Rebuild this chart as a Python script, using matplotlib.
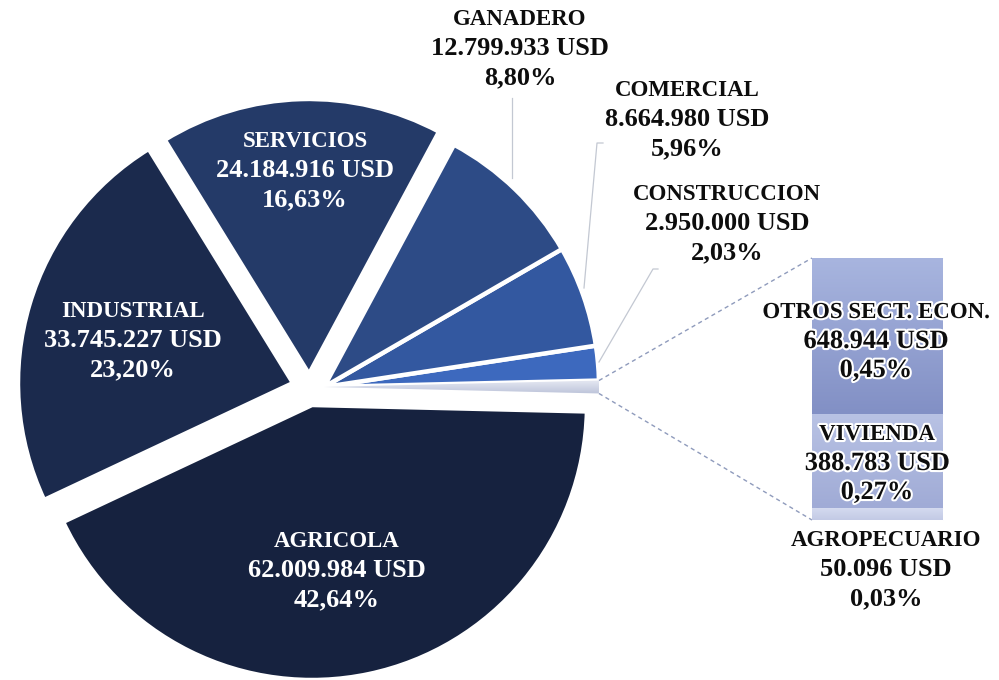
import matplotlib
matplotlib.use("Agg")
import matplotlib.pyplot as plt
import matplotlib.patheffects as pe
import numpy as np

# ---------------- data ----------------
main_sectors = ["AGRICOLA", "INDUSTRIAL", "SERVICIOS", "GANADERO", "COMERCIAL", "CONSTRUCCION"]
main_values = [62009984, 33745227, 24184916, 12799933, 8664980, 2950000]
bar_sectors = ["OTROS SECT. ECON.", "VIVIENDA", "AGROPECUARIO"]
bar_values = [648944, 388783, 50096]

total = sum(main_values) + sum(bar_values)

def fmt_usd(v):
    return f"{v:,}".replace(",", ".") + " USD"

def fmt_pct(v):
    return f"{100 * v / total:.2f}".replace(".", ",") + "%"

# ---------------- styling ----------------
main_colors = {
    "AGRICOLA": "#16223F",
    "INDUSTRIAL": "#1B2A4D",
    "SERVICIOS": "#243A68",
    "GANADERO": "#2D4B86",
    "COMERCIAL": "#3358A0",
    "CONSTRUCCION": "#3D69BE",
}
other_color = "#D2D7E7"

W, H = 999, 680
fig = plt.figure(figsize=(W / 100, H / 100), dpi=100)
ax = fig.add_axes([0, 0, 1, 1])

FONT = ["Liberation Serif", "DejaVu Serif"]
FS_NAME = 16.5
FS_NUM = 19
LINE_GAP = 29

order = ["AGRICOLA", "OTHER", "CONSTRUCCION", "COMERCIAL", "GANADERO", "SERVICIOS", "INDUSTRIAL"]
vals_map = dict(zip(main_sectors, main_values))
vals_map["OTHER"] = sum(bar_values)
pie_vals = [vals_map[k] for k in order]
pie_cols = [main_colors.get(k, other_color) for k in order]

other_frac = vals_map["OTHER"] / total
agri_frac = vals_map["AGRICOLA"] / total
start = -(other_frac / 2) * 360 - agri_frac * 360

cx, cy, R = 324, H - 387, 275
wedges, _ = ax.pie(pie_vals, colors=pie_cols, startangle=start,
                   counterclock=True, center=(cx, cy), radius=R,
                   wedgeprops=dict(edgecolor="white", linewidth=3.2))

# pulled-out slices (apex positions in image pixels)
offsets = {"AGRICOLA": (312, 405), "INDUSTRIAL": (293, 383), "SERVICIOS": (309, 374)}
for k, (px, py) in offsets.items():
    wedges[order.index(k)].set_center((px, H - py))

# gradient on the "other" wedge
ow = wedges[order.index("OTHER")]
t = np.linspace(0, 1, 32)[:, None]
c1 = np.array(matplotlib.colors.to_rgb("#E8EBF4"))
c2 = np.array(matplotlib.colors.to_rgb("#BAC1D8"))
img = (c1 * (1 - t) + c2 * t)[:, None, :]
im = ax.imshow(img, extent=[cx, cx + R, cy - 8, cy + 8], aspect="auto", origin="upper", zorder=1.5)
im.set_clip_path(ow)

# ---------------- stacked bar ----------------
bx, bw = 877.5, 131
b_bottom, b_height = 160, 262
scale = b_height / sum(bar_values)
bar_grad = {
    "OTROS SECT. ECON.": ("#A8B5DF", "#8290C5"),
    "VIVIENDA": ("#B8C2E4", "#A0ABD6"),
    "AGROPECUARIO": ("#D5DBF0", "#C3CAE5"),
}
bottom = b_bottom
for name, v in zip(bar_sectors[::-1], bar_values[::-1]):
    h = v * scale
    rect = ax.bar(bx, h, width=bw, bottom=bottom, color=bar_grad[name][1],
                  edgecolor="white", linewidth=0.8, zorder=2)[0]
    top_c = np.array(matplotlib.colors.to_rgb(bar_grad[name][0]))
    bot_c = np.array(matplotlib.colors.to_rgb(bar_grad[name][1]))
    t = np.linspace(0, 1, 64)[:, None]
    img = (top_c * (1 - t) + bot_c * t)[:, None, :]
    im = ax.imshow(img, extent=[bx - bw / 2, bx + bw / 2, bottom, bottom + h],
                   aspect="auto", zorder=2.1, origin="upper")
    im.set_clip_path(rect)
    bottom += h

# connector dashed lines
theta1 = np.deg2rad(-(other_frac / 2) * 360)
theta2 = np.deg2rad((other_frac / 2) * 360)
p_low = (cx + R * np.cos(theta1), cy + R * np.sin(theta1))
p_high = (cx + R * np.cos(theta2), cy + R * np.sin(theta2))
ax.plot([p_high[0], bx - bw / 2], [p_high[1], b_bottom + b_height],
        ls=(0, (3, 2.5)), color="#8F9BBC", lw=1.0, zorder=1)
ax.plot([p_low[0], bx - bw / 2], [p_low[1], b_bottom],
        ls=(0, (3, 2.5)), color="#8F9BBC", lw=1.0, zorder=1)

# leader lines (image coords -> up coords)
def L(pts):
    xs = [p[0] for p in pts]
    ys = [H - p[1] for p in pts]
    ax.plot(xs, ys, color="#C3C8D2", lw=0.9, zorder=1)

L([(512, 98), (512, 178)])
L([(603, 143), (597, 143), (584, 288)])
L([(658, 269), (653, 269), (599, 362)])

# ---------------- labels ----------------
label_pos = {
    "AGRICOLA": (337, 568, "white"),
    "INDUSTRIAL": (133, 338, "white"),
    "SERVICIOS": (305, 168, "white"),
    "GANADERO": (520, 46, "#0D0D0D"),
    "COMERCIAL": (687, 117, "#0D0D0D"),
    "CONSTRUCCION": (727, 221, "#0D0D0D"),
    "OTROS SECT. ECON.": (876, 339, "#0D0D0D"),
    "VIVIENDA": (877, 461, "#0D0D0D"),
    "AGROPECUARIO": (886, 567, "#0D0D0D"),
}
halo = {"OTROS SECT. ECON.", "VIVIENDA"}
all_names = main_sectors + bar_sectors
all_vals = main_values + bar_values
for name, v in zip(all_names, all_vals):
    x, y, c = label_pos[name]
    kw = {}
    if name in halo:
        kw["path_effects"] = [pe.withStroke(linewidth=3, foreground="white")]
    lines = [(name, FS_NAME), (fmt_usd(v), FS_NUM), (fmt_pct(v), FS_NUM)]
    for i, (txt, fs) in enumerate(lines):
        yy = y + (i - 1) * LINE_GAP
        ax.text(x, H - yy, txt, ha="center", va="center_baseline", color=c,
                fontsize=fs, fontweight="bold", family=FONT, zorder=5, **kw)

ax.set_xlim(0, W)
ax.set_ylim(0, H)
ax.set_aspect("equal")
ax.axis("off")
fig.savefig("out.png", dpi=100, facecolor="white")
